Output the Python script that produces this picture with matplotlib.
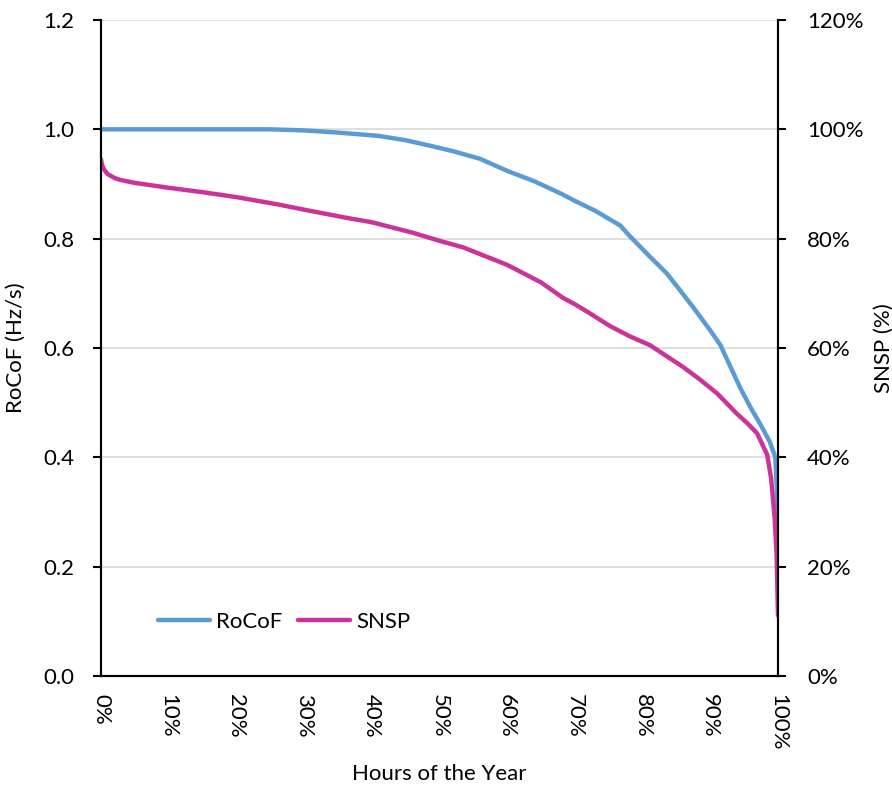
import matplotlib

matplotlib.use("Agg")
import matplotlib.pyplot as plt
from matplotlib.ticker import PercentFormatter, MultipleLocator

plt.rcParams["font.family"] = ["Lato", "DejaVu Sans"]
plt.rcParams["font.size"] = 16

# Duration curves (x = share of the hours of the year)
rocof_x = [0.0, 0.10, 0.20, 0.25, 0.30, 0.35, 0.41, 0.45, 0.486, 0.52, 0.56, 0.60,
           0.64, 0.68, 0.70, 0.73, 0.745, 0.767, 0.78, 0.81, 0.836, 0.855, 0.875,
           0.90, 0.915, 0.93, 0.945, 0.96, 0.975, 0.988, 0.996, 0.998, 1.0]
rocof_y = [1.0, 1.0, 1.0, 1.0, 0.998, 0.994, 0.988, 0.98, 0.97, 0.96, 0.946, 0.924,
           0.905, 0.882, 0.869, 0.851, 0.84, 0.824, 0.806, 0.768, 0.736, 0.706, 0.674,
           0.632, 0.605, 0.565, 0.525, 0.49, 0.458, 0.428, 0.40, 0.35, 0.27]

snsp_x = [0.0, 0.001, 0.003, 0.006, 0.01, 0.02, 0.03, 0.05, 0.10, 0.15, 0.20, 0.264,
          0.30, 0.363, 0.40, 0.46, 0.50, 0.535, 0.60, 0.65, 0.682, 0.70, 0.72, 0.752,
          0.78, 0.811, 0.86, 0.885, 0.91, 0.939, 0.955, 0.969, 0.984, 0.99, 0.995,
          0.998, 1.0]
snsp_y = [0.945, 0.938, 0.93, 0.924, 0.918, 0.911, 0.907, 0.902, 0.893, 0.885, 0.876,
          0.862, 0.853, 0.838, 0.83, 0.811, 0.796, 0.784, 0.752, 0.72, 0.692, 0.68,
          0.665, 0.64, 0.622, 0.605, 0.565, 0.542, 0.517, 0.48, 0.462, 0.444, 0.405,
          0.36, 0.29, 0.22, 0.11]

BLUE = "#5B9BD5"
PINK = "#CC3399"

fig = plt.figure(figsize=(8.92, 7.96), dpi=100)
ax = fig.add_axes([0.1132, 0.1508, 0.759, 0.8241])
ax2 = ax.twinx()

ax.set_xlim(0, 1)
ax.set_ylim(0, 1.2)
ax2.set_ylim(0, 1.2)

ax.yaxis.set_major_locator(MultipleLocator(0.2))
ax.yaxis.set_major_formatter(lambda v, p: f"{v:.1f}")
ax2.yaxis.set_major_locator(MultipleLocator(0.2))
ax2.yaxis.set_major_formatter(PercentFormatter(1.0, decimals=0))
ax.xaxis.set_major_locator(MultipleLocator(0.1))
ax.xaxis.set_major_formatter(PercentFormatter(1.0, decimals=0))

ax.grid(axis="y", color="#D9D9D9", lw=1.2)
ax.set_axisbelow(True)

l1, = ax.plot(rocof_x, rocof_y, color=BLUE, lw=3.2, label="RoCoF", solid_capstyle="round")
l2, = ax2.plot(snsp_x, snsp_y, color=PINK, lw=3.2, label="SNSP", solid_capstyle="round")

for a in (ax, ax2):
    a.spines["top"].set_visible(False)
    for s in ("left", "right", "bottom"):
        a.spines[s].set_linewidth(1.5)
        a.spines[s].set_color("black")

ax.tick_params(axis="x", length=0, pad=13, labelrotation=-90)
ax.tick_params(axis="y", length=6, width=1.5, pad=13)
ax2.tick_params(axis="y", length=6, width=1.5, pad=15)
for lbl in ax.get_xticklabels():
    lbl.set_va("top")
    lbl.set_ha("center")

ax.set_xlabel("Hours of the Year", labelpad=10)
ax.set_ylabel("RoCoF (Hz/s)", labelpad=13)
ax2.set_ylabel("SNSP (%)", labelpad=7)

ax2.legend([l1, l2], ["RoCoF", "SNSP"], loc="center left", bbox_to_anchor=(0.084, 0.082),
           frameon=False, ncol=2, handlelength=2.35, handletextpad=0.27,
           columnspacing=0.7, borderpad=0, borderaxespad=0)

fig.savefig("out.png", dpi=100)
